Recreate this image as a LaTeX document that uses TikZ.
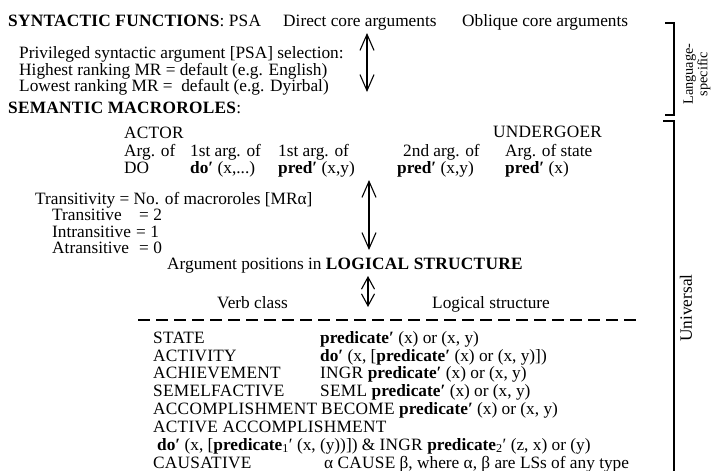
\documentclass[tikz,border=0pt]{standalone}
\usepackage{fontspec}
\setmainfont{Liberation Serif}
\usetikzlibrary{arrows.meta}
\newcommand\myfs{\fontsize{17.3}{17.8}\selectfont}
\newcommand\langfs{\fontsize{14.3}{14.5}\selectfont}
\newcommand\capsp[1]{{\addfontfeature{LetterSpace=1.5}#1}}
\tikzset{
  txt/.style={anchor=base west, inner sep=0pt, font=\myfs},
  barb/.tip={Straight Barb[length=16pt,width=14pt,line width=1.1pt]},
  sbarb/.tip={Straight Barb[length=12pt,width=13pt,line width=1.1pt]},
  dblarrow/.style={barb-barb, line width=1.1pt},
  shortarrow/.style={sbarb-sbarb, line width=1.1pt},
  brk/.style={line width=1.3pt},
  dashline/.style={line width=1.3pt, dash pattern=on 12pt off 6pt},
}
\begin{document}
\begin{tikzpicture}[x=1pt,y=-1pt]
\useasboundingbox (0,0) rectangle (716,471);
% syntactic functions
\node[txt] (synf) at (8,27) {\textbf{\capsp{SYNTACTIC FUNCTIONS}}: \capsp{PSA}};
\node[txt] (direct) at (283,27) {Direct core arguments};
\node[txt] (oblique) at (462,27) {Oblique core arguments};
\node[txt] (psa1) at (19,58) {Privileged syntactic argument [PSA] selection:};
\node[txt] (psa2) at (19,75) {Highest ranking MR = default (e.g. English)};
\node[txt] (psa3) at (19,91) {Lowest ranking MR = \ default (e.g. Dyirbal)};
\node[txt] (semmr) at (8,113) {\textbf{\capsp{SEMANTIC MACROROLES}}:};
% macrorole columns
\node[txt] (actor) at (124,138) {\capsp{ACTOR}};
\node[txt] (c1a) at (124,156) {Arg. of};
\node[txt] (c1b) at (124,173) {DO};
\node[txt] (c2a) at (190,156) {1st arg. of};
\node[txt] (c2b) at (190,173) {\textbf{do′} (x,...)};
\node[txt] (c3a) at (278,156) {1st arg. of};
\node[txt] (c3b) at (278,173) {\textbf{pred′} (x,y)};
\node[txt] (c4a) at (403,156) {2nd arg. of};
\node[txt] (c4b) at (397,173) {\textbf{pred′} (x,y)};
\node[txt] (undergoer) at (493,137) {\capsp{UNDERGOER}};
\node[txt] (c5a) at (505,156) {Arg. of state};
\node[txt] (c5b) at (505,173) {\textbf{pred′} (x)};
% transitivity
\node[txt] (trans) at (35,204) {Transitivity = No. of macroroles [MRα]};
\node[txt] (tr1) at (52,220) {Transitive};
\node[txt] (tr1v) at (139,220) {= 2};
\node[txt] (tr2) at (52,237) {Intransitive};
\node[txt] (tr2v) at (136,237) {= 1};
\node[txt] (tr3) at (52,253) {Atransitive};
\node[txt] (tr3v) at (139,253) {= 0};
% logical structure
\node[txt] (argpos) at (167,269) {Argument positions in \textbf{\capsp{LOGICAL STRUCTURE}}};
\node[txt] (vclass) at (217,308) {Verb class};
\node[txt] (lstruct) at (432,308) {Logical structure};
\coordinate (dl) at (138,320);
\coordinate (dr) at (637,320);
\draw[dashline] (dl) -- (dr);
% verb classes
\node[txt] (v1) at (153,343) {\capsp{STATE}};
\node[txt] (v1r) at (320,343) {\textbf{predicate′} (x) or (x, y)};
\node[txt] (v2) at (153,361) {\capsp{ACTIVITY}};
\node[txt] (v2r) at (320,361) {\textbf{do′} (x, [\textbf{predicate′} (x) or (x, y)])};
\node[txt] (v3) at (153,378) {\capsp{ACHIEVEMENT}};
\node[txt] (v3r) at (320,378) {\capsp{INGR} \textbf{predicate′} (x) or (x, y)};
\node[txt] (v4) at (153,396) {\capsp{SEMELFACTIVE}};
\node[txt] (v4r) at (320,396) {\capsp{SEML} \textbf{predicate′} (x) or (x, y)};
\node[txt] (v5) at (153,414) {\capsp{ACCOMPLISHMENT}};
\node[txt] (v5r) at (321,414) {\capsp{BECOME} \textbf{predicate′} (x) or (x, y)};
\node[txt] (v6) at (153,432) {\capsp{ACTIVE ACCOMPLISHMENT}};
\node[txt] (v6r) at (157,450) {\textbf{do′} (x, [\textbf{predicate}\textsubscript{1}′ (x, (y))]) \& \capsp{INGR} \textbf{predicate}\textsubscript{2}′ (z, x) or (y)};
\node[txt] (v7) at (153,468) {\capsp{CAUSATIVE}};
\node[txt] (v7r) at (324,468) {α \capsp{CAUSE} β, where α, β are LSs of any type};
% arrows
\coordinate (a1t) at (367,33);
\coordinate (a1b) at (367,92);
\draw[dblarrow] (a1t) -- (a1b);
\coordinate (a2t) at (369,180);
\coordinate (a2b) at (369,250);
\draw[dblarrow] (a2t) -- (a2b);
\coordinate (a3t) at (368,276);
\coordinate (a3b) at (368,307);
\draw[shortarrow] (a3t) -- (a3b);
% brackets
\draw[brk] (665,23) -- (674,23) -- (674,115) -- (665,115);
\draw[brk] (663,121) -- (674,121) -- (674,471);
\node[rotate=90, align=center, font=\langfs, inner sep=0pt] (lang) at (697,74) {Language-\\specific};
\node[rotate=90, font=\myfs, inner sep=0pt] (univ) at (686,308) {Universal};
\end{tikzpicture}
\end{document}
